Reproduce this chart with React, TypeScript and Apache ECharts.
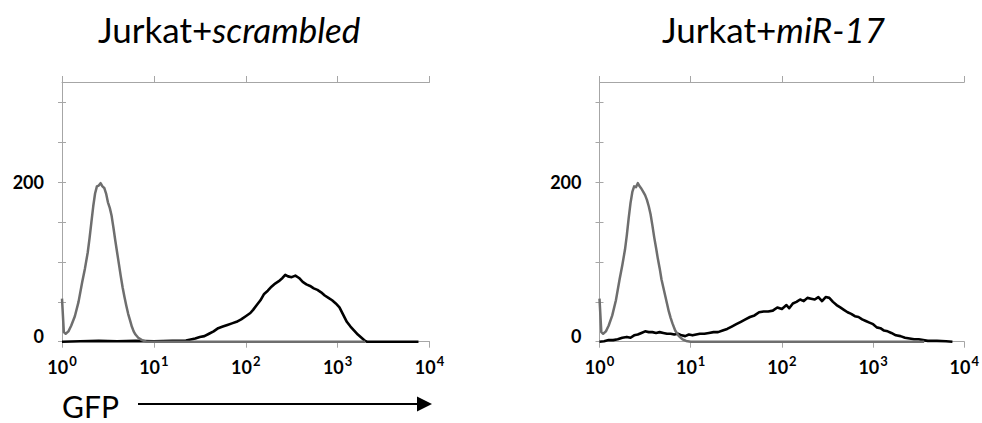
import React, { useEffect, useRef } from "react";
import * as echarts from "echarts";

// x values are log10(GFP) decades, y values are cell counts
const decadeTicks = [0, 1, 2, 3, 4];
const countTicks = [0, 50, 100, 150, 200, 250, 300];
const countLabels = [0, 200];
const titles = ["Jurkat+", "scrambled", "Jurkat+", "miR-17"];

const grayLeft: [number, number][] = [
  [0, 54], [0.02, 12], [0.04, 10], [0.07, 13], [0.1, 20], [0.14, 32], [0.18, 50], [0.22, 75],
  [0.25, 92], [0.28, 112], [0.3, 130], [0.32, 150], [0.34, 170], [0.36, 186], [0.38, 195],
  [0.4, 196], [0.42, 199], [0.44, 195], [0.46, 193], [0.48, 186], [0.5, 175], [0.52, 168],
  [0.54, 158], [0.56, 143], [0.58, 127], [0.6, 112], [0.62, 97], [0.64, 82], [0.66, 68],
  [0.68, 56], [0.7, 45], [0.72, 35], [0.74, 27], [0.76, 19], [0.78, 13], [0.8, 9], [0.83, 5],
  [0.87, 2], [0.92, 0], [3.3, 0],
];

const blackLeft: [number, number][] = [
  [0, 0], [0.2, 0.5], [0.4, 1], [0.6, 0.5], [0.8, 1], [1.0, 0.5], [1.2, 1], [1.35, 1.5],
  [1.45, 4], [1.5, 6], [1.55, 7], [1.6, 10], [1.65, 13], [1.7, 17], [1.75, 19], [1.8, 21],
  [1.85, 23], [1.9, 25], [1.95, 28], [2.0, 32], [2.05, 36], [2.08, 40], [2.12, 46], [2.16, 52],
  [2.2, 60], [2.24, 64], [2.28, 69], [2.32, 73], [2.36, 76], [2.4, 80], [2.43, 84], [2.46, 82],
  [2.5, 81], [2.54, 83], [2.58, 80], [2.62, 75], [2.66, 72], [2.7, 70], [2.74, 67], [2.78, 65],
  [2.82, 62], [2.86, 58], [2.9, 55], [2.94, 52], [2.98, 48], [3.02, 43], [3.06, 34], [3.1, 25],
  [3.14, 19], [3.18, 14], [3.22, 9], [3.26, 5], [3.3, 1], [3.32, 0], [3.88, 0],
];

const grayRight: [number, number][] = [
  [0, 54], [0.02, 12], [0.04, 10], [0.07, 13], [0.1, 20], [0.14, 33], [0.18, 52], [0.22, 78],
  [0.25, 96], [0.28, 116], [0.3, 134], [0.32, 155], [0.34, 174], [0.36, 188], [0.38, 195],
  [0.4, 194], [0.42, 199], [0.44, 195], [0.46, 192], [0.48, 188], [0.5, 184], [0.52, 178],
  [0.54, 170], [0.56, 160], [0.58, 146], [0.6, 131], [0.62, 118], [0.64, 104], [0.66, 92],
  [0.68, 78], [0.7, 68], [0.72, 58], [0.74, 48], [0.76, 38], [0.78, 30], [0.8, 23], [0.83, 14],
  [0.87, 7], [0.91, 3], [0.95, 1], [1.0, 0], [3.56, 0],
];

const blackRight: [number, number][] = [
  [0, 0], [0.05, 0.5], [0.1, 2], [0.15, 2], [0.2, 3], [0.25, 5], [0.3, 6], [0.34, 5], [0.38, 8],
  [0.42, 9], [0.46, 11], [0.5, 13], [0.54, 12], [0.58, 12], [0.62, 11], [0.66, 12], [0.7, 11],
  [0.74, 10], [0.78, 10], [0.82, 9], [0.86, 10], [0.9, 8], [0.94, 7], [0.98, 9], [1.02, 8],
  [1.06, 9], [1.1, 10], [1.15, 10], [1.2, 11], [1.25, 12], [1.3, 12], [1.35, 14], [1.4, 16],
  [1.45, 19], [1.5, 22], [1.55, 25], [1.6, 28], [1.65, 31], [1.7, 33], [1.75, 37], [1.8, 38],
  [1.85, 38], [1.9, 39], [1.95, 43], [2.0, 41], [2.05, 46], [2.08, 42], [2.12, 48], [2.16, 50],
  [2.2, 53], [2.24, 51], [2.28, 55], [2.32, 54], [2.36, 53], [2.4, 56], [2.44, 51], [2.48, 56],
  [2.52, 55], [2.56, 50], [2.6, 46], [2.64, 43], [2.68, 40], [2.72, 37], [2.76, 35], [2.8, 32],
  [2.84, 31], [2.88, 28], [2.92, 26], [2.96, 24], [3.0, 22], [3.04, 18], [3.08, 17], [3.12, 14],
  [3.16, 13], [3.2, 11], [3.25, 8], [3.3, 7], [3.35, 5], [3.4, 4], [3.45, 3], [3.5, 3],
  [3.55, 2], [3.6, 1], [3.7, 1], [3.8, 0.5], [3.87, 0],
];

const BOX = "#a6a6a6";
const FONT = "Lato, 'Open Sans', sans-serif";

export default function App() {
  const ref = useRef<HTMLDivElement>(null);
  useEffect(() => {
    if (!ref.current) return;
    const chart = echarts.init(ref.current, null, { renderer: "svg" });

    const grids = [
      { left: 62, top: 82, width: 367.5, height: 259.7 },
      { left: 599.5, top: 82, width: 367, height: 259.7 },
    ];

    const xAxes: any[] = [];
    const yAxes: any[] = [];
    [0, 1].forEach((g) => {
      const baseX = {
        type: "value",
        gridIndex: g,
        min: 0,
        max: 4,
        interval: 1,
        splitLine: { show: false },
        axisLine: { show: true, onZero: false, lineStyle: { color: BOX, width: 1 } },
        axisTick: { show: true, inside: false, length: 6, lineStyle: { color: BOX } },
      };
      xAxes.push({
        ...baseX,
        position: "bottom",
        axisLabel: {
          show: true,
          margin: 13,
          customValues: decadeTicks,
          formatter: (v: number) => `{b|10}{s|${Math.round(v)}}`,
          rich: {
            b: { fontFamily: FONT, fontWeight: "bold", fontSize: 18, color: "#000" },
            s: {
              fontFamily: FONT,
              fontWeight: "bold",
              fontSize: 13,
              color: "#000",
              padding: [0, 0, 12, 1],
            },
          },
        },
      });
      xAxes.push({ ...baseX, position: "top", axisLabel: { show: false } });

      const baseY = {
        type: "value",
        gridIndex: g,
        min: 0,
        max: 326,
        splitLine: { show: false },
        axisLine: { show: true, lineStyle: { color: BOX, width: 1 } },
        axisTick: {
          show: true,
          inside: false,
          length: 4,
          customValues: countTicks,
          lineStyle: { color: BOX },
        },
      };
      yAxes.push({
        ...baseY,
        position: "left",
        axisLabel: {
          show: true,
          margin: 18,
          customValues: countLabels,
          formatter: (v: number) => (v === 0 ? `{z|0}` : `{n|${v}}`),
          rich: {
            n: { fontFamily: FONT, fontWeight: "bold", fontSize: 18, color: "#000" },
            z: {
              fontFamily: FONT,
              fontWeight: "bold",
              fontSize: 18,
              color: "#000",
              padding: [0, 0, 11, 0],
            },
          },
        },
      });
      yAxes.push({ ...baseY, position: "right", axisLabel: { show: false } });
    });

    const line = (data: [number, number][], g: number, color: string, width: number, z: number) => ({
      type: "line",
      xAxisIndex: g * 2,
      yAxisIndex: g * 2,
      data,
      showSymbol: false,
      symbol: "none",
      lineStyle: { color, width, join: "round" },
      z,
      silent: true,
    });

    const titleRich = {
      n: { fontFamily: FONT, fontSize: 35, color: "#000" },
      i: { fontFamily: FONT, fontSize: 35, fontStyle: "italic", color: "#000" },
    };

    chart.setOption({
      animation: false,
      backgroundColor: "#fff",
      grid: grids,
      xAxis: xAxes,
      yAxis: yAxes,
      series: [
        line(blackLeft, 0, "#000000", 2.6, 2),
        line(grayLeft, 0, "#6e6e6e", 2.5, 3),
        line(blackRight, 1, "#000000", 2.6, 2),
        line(grayRight, 1, "#6e6e6e", 2.5, 3),
      ],
      graphic: [
        {
          type: "text",
          x: 98,
          y: 29,
          style: {
            text: `{n|${titles[0]}}{i|${titles[1]}}`,
            rich: titleRich,
            verticalAlign: "middle",
            align: "left",
          },
        },
        {
          type: "text",
          x: 662,
          y: 29,
          style: {
            text: `{n|${titles[2]}}{i|${titles[3]}}`,
            rich: titleRich,
            verticalAlign: "middle",
            align: "left",
          },
        },
        {
          type: "text",
          x: 62,
          y: 406,
          style: {
            text: "GFP",
            fontFamily: FONT,
            fontSize: 30,
            fill: "#000",
            verticalAlign: "middle",
            align: "left",
          },
        },
        {
          type: "line",
          shape: { x1: 138, y1: 404, x2: 420, y2: 404 },
          style: { stroke: "#000", lineWidth: 2 },
        },
        {
          type: "polygon",
          shape: { points: [[417, 396.5], [432, 404], [417, 411.5]] },
          style: { fill: "#000" },
        },
      ],
    });
    return () => chart.dispose();
  }, []);
  return (
    <div style={{ position: "fixed", left: 0, top: 0, width: 982, height: 423, background: "#fff" }}>
      <div ref={ref} style={{ width: 982, height: 423 }} />
    </div>
  );
}
